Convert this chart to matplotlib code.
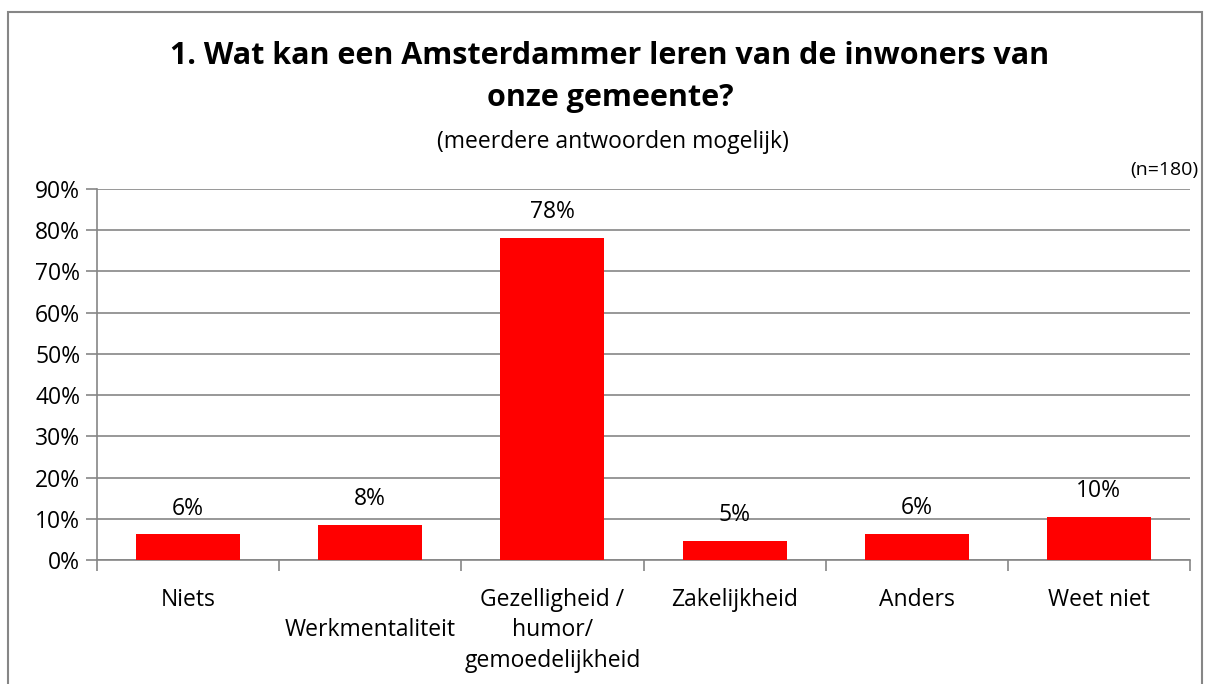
import matplotlib.pyplot as plt
from matplotlib.patches import Rectangle
import numpy as np

# data
categories = ['Niets', '\nWerkmentaliteit', 'Gezelligheid /\nhumor/\ngemoedelijkheid',
              'Zakelijkheid', 'Anders', 'Weet niet']
values = [6.2, 8.5, 78.2, 4.7, 6.4, 10.4]
labels = ['6%', '8%', '78%', '5%', '6%', '10%']

plt.rcParams['font.family'] = ['Open Sans', 'DejaVu Sans']
grey = '#868686'
fs = 16.5

fig = plt.figure(figsize=(12.05, 6.84), dpi=100)
fig.patches.append(Rectangle((8 / 1205, -0.1), 1194 / 1205, 1.1 - 12 / 684,
                             transform=fig.transFigure, fill=False,
                             edgecolor=grey, linewidth=1.5))

ax = fig.add_axes([97 / 1205, 1 - 560 / 684, 1093 / 1205, 371 / 684])
x = np.arange(len(categories))
ax.bar(x, values, width=0.57, color='#ff0000', zorder=3)
for xi, v, lab in zip(x, values, labels):
    ax.annotate(lab, (xi, v), xytext=(0, 10), textcoords='offset points',
                ha='center', va='bottom', fontsize=fs)

ax.set_xlim(-0.5, len(categories) - 0.5)
ax.set_ylim(0, 90)
ax.set_yticks(range(0, 91, 10))
ax.set_yticklabels([f'{t}%' for t in range(0, 91, 10)], fontsize=fs)
ax.yaxis.grid(True, color=grey, linewidth=1.2, zorder=0)

ax.set_xticks(np.arange(-0.5, len(categories), 1))
ax.set_xticklabels([])
ax.set_xticks(x, minor=True)
ax.set_xticklabels(categories, minor=True, fontsize=fs, linespacing=1.37, va='top')
ax.tick_params(axis='x', which='minor', length=0, pad=20)
ax.tick_params(axis='x', which='major', length=8, color=grey, width=1.2)
ax.tick_params(axis='y', length=8, color=grey, width=1.2, pad=4)

for s in ['top', 'right']:
    ax.spines[s].set_visible(False)
for s in ['left', 'bottom']:
    ax.spines[s].set_color(grey)
    ax.spines[s].set_linewidth(1.2)

fig.text(610 / 1205, 1 - 56 / 684, '1. Wat kan een Amsterdammer leren van de inwoners van',
         ha='center', va='center', fontsize=22, fontweight='bold')
fig.text(610 / 1205, 1 - 98 / 684, 'onze gemeente?',
         ha='center', va='center', fontsize=22, fontweight='bold')
fig.text(613 / 1205, 1 - 142 / 684, '(meerdere antwoorden mogelijk)',
         ha='center', va='center', fontsize=fs)
fig.text(1198 / 1205, 1 - 170 / 684, '(n=180)', ha='right', va='center', fontsize=14)

fig.savefig('out.png', dpi=100)
